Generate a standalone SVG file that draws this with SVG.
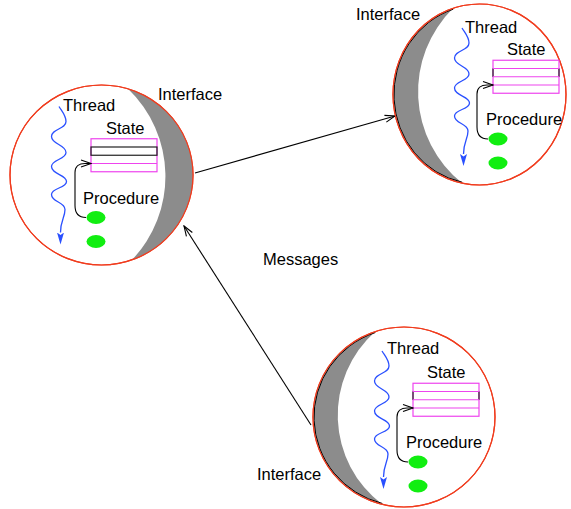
<svg xmlns="http://www.w3.org/2000/svg" xmlns:xlink="http://www.w3.org/1999/xlink" width="571" height="509" viewBox="0 0 571 509">
<style>
  text { font-family: "Liberation Sans", Arial, Helvetica, sans-serif; font-size: 16.5px; fill: #000; }
  .circle { fill: #fff; stroke: #f03c1e; stroke-width: 1.2; }
  .ring { fill: none; stroke: #f03c1e; stroke-width: 1.2; }
  .cres { fill: #8c8c8c; stroke: none; }
  .cresEdge { fill: none; stroke: #000; stroke-width: 1; }
  .thread { fill: none; stroke: #2a50ff; stroke-width: 1.3; }
  .box { fill: none; stroke: #ee44ee; stroke-width: 1.2; }
  .blk { fill: none; stroke: #222; stroke-width: 1.2; }
  .proc { fill: none; stroke: #000; stroke-width: 1.1; }
  .blob { fill: #11ee11; }
  .conn { fill: none; stroke: #000; stroke-width: 1.1; }
</style>
<defs>
  <marker id="threadHead" markerUnits="userSpaceOnUse" viewBox="0 -4 12 8" markerWidth="12" markerHeight="8" refX="0" refY="0" orient="auto">
    <path d="M0,-3.5 L12,0 L0,3.5 L2.5,0 Z" fill="#2a50ff"/>
  </marker>
  <marker id="openHead" markerUnits="userSpaceOnUse" viewBox="-1 -5 12 10" markerWidth="12" markerHeight="10" refX="10" refY="0" orient="auto">
    <path d="M0,-3.5 L10,0 L0,3.5" fill="none" stroke="#000" stroke-width="1.1"/>
  </marker>
  <path id="threadPath" d="M0,0 C3,5 7,9 7,15 C7,23 -7.5,22 -7.5,30 C-7.5,38 7,38 7,46 C7,53 -7.5,53 -7.5,60 C-7.5,68 7.5,68 7.5,75 C7.5,82 -7.5,81 -7.5,88 C-7.5,96 6,95 6,103 C6,111 1.5,114 1.5,126"/>
</defs>

<g id="connectors">
  <line class="conn" x1="195" y1="173" x2="395" y2="116" marker-end="url(#openHead)"/>
  <line class="conn" x1="311" y1="425" x2="184" y2="226" marker-end="url(#openHead)"/>
  <text x="263" y="265">Messages</text>
</g>

<g id="process-left">
  <ellipse class="circle" cx="101.5" cy="175" rx="91.5" ry="90"/>
  <path class="cres" d="M128,88.86 A91.5,90 0 0 1 132,259.85 A121,121 0 0 0 128,88.86 Z"/>
  <ellipse class="ring" cx="101.5" cy="175" rx="91.5" ry="90"/>
  <text x="158" y="100">Interface</text>
  <g transform="translate(91,163.5)">
    <use xlink:href="#threadPath" class="thread" transform="translate(-32,-57)" marker-end="url(#threadHead)"/>
    <text x="-28" y="-53">Thread</text>
    <text x="15" y="-30">State</text>
    <rect class="box" x="0" y="-24.75" width="66" height="33"/>
    <line class="box" x1="0" y1="0" x2="66" y2="0"/>
    <rect class="blk" x="0" y="-16.5" width="66" height="8.25"/>
    <path class="proc" d="M-5,54 C-13,54 -16,50 -16,42 L-16,9 C-16,3 -12,0 -6,0 L0,0" marker-end="url(#openHead)"/>
    <text x="-8" y="40">Procedure</text>
    <ellipse class="blob" cx="5" cy="54" rx="9.5" ry="6.5"/>
    <ellipse class="blob" cx="5" cy="78" rx="9.5" ry="6.5"/>
  </g>
</g>

<g id="process-top-right">
  <ellipse class="circle" cx="479.5" cy="94.5" rx="86.5" ry="90.5"/>
  <path class="cres" d="M453,8.35 A86.5,90.5 0 0 0 462,183.1 A117,117 0 0 1 453,8.35 Z"/>
  <path class="cresEdge" d="M453,8.35 A86.5,90.5 0 0 0 462,183.1" transform="translate(479.5,94.5) scale(0.99) translate(-479.5,-94.5)"/>
  <ellipse class="ring" cx="479.5" cy="94.5" rx="86.5" ry="90.5"/>
  <text x="356" y="20">Interface</text>
  <g transform="translate(493,85)">
    <use xlink:href="#threadPath" class="thread" transform="translate(-31,-57)" marker-end="url(#threadHead)"/>
    <text x="-28" y="-52">Thread</text>
    <text x="14" y="-30">State</text>
    <rect class="box" x="0" y="-24.75" width="66" height="33"/>
    <line class="blk" x1="0" y1="-16.5" x2="0" y2="-8.25"/>
    <line class="blk" x1="66" y1="-16.5" x2="66" y2="-8.25"/>
    <line class="box" x1="0" y1="-16.5" x2="66" y2="-16.5"/>
    <line class="box" x1="0" y1="-8.25" x2="66" y2="-8.25"/>
    <line class="box" x1="0" y1="0" x2="66" y2="0"/>
    <path class="proc" d="M-5,54 C-13,54 -16,50 -16,42 L-16,9 C-16,3 -12,0 -6,0 L0,0" marker-end="url(#openHead)"/>
    <text x="-7" y="40">Procedure</text>
    <ellipse class="blob" cx="5" cy="54" rx="9.5" ry="6.5"/>
    <ellipse class="blob" cx="5" cy="78" rx="9.5" ry="6.5"/>
  </g>
</g>

<g id="process-bottom">
  <ellipse class="circle" cx="404" cy="417" rx="91" ry="90"/>
  <path class="cres" d="M375,331.7 A91,90 0 0 0 382,504.3 A112,112 0 0 1 375,331.7 Z"/>
  <path class="cresEdge" d="M375,331.7 A91,90 0 0 0 382,504.3" transform="translate(404,417) scale(0.99) translate(-404,-417)"/>
  <ellipse class="ring" cx="404" cy="417" rx="91" ry="90"/>
  <text x="257" y="480">Interface</text>
  <g transform="translate(413,408)">
    <use xlink:href="#threadPath" class="thread" transform="translate(-31,-57)" marker-end="url(#threadHead)"/>
    <text x="-26" y="-54">Thread</text>
    <text x="14" y="-30">State</text>
    <rect class="box" x="0" y="-24.75" width="66" height="33"/>
    <line class="blk" x1="0" y1="-16.5" x2="0" y2="-8.25"/>
    <line class="blk" x1="66" y1="-16.5" x2="66" y2="-8.25"/>
    <line class="box" x1="0" y1="-16.5" x2="66" y2="-16.5"/>
    <line class="box" x1="0" y1="-8.25" x2="66" y2="-8.25"/>
    <line class="box" x1="0" y1="0" x2="66" y2="0"/>
    <path class="proc" d="M-5,54 C-13,54 -16,50 -16,42 L-16,9 C-16,3 -12,0 -6,0 L0,0" marker-end="url(#openHead)"/>
    <text x="-7" y="40">Procedure</text>
    <ellipse class="blob" cx="5" cy="54" rx="9.5" ry="6.5"/>
    <ellipse class="blob" cx="5" cy="78" rx="9.5" ry="6.5"/>
  </g>
</g>
</svg>
